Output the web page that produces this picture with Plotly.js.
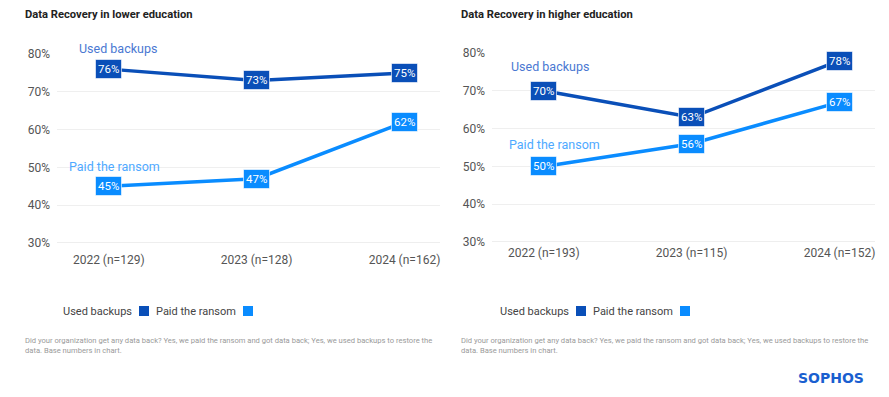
<!DOCTYPE html>
<html><head><meta charset="utf-8">
<script src="https://cdn.plot.ly/plotly-3.0.1.min.js"></script>
<style>html,body{margin:0;padding:0;background:#fff}#chart{width:889px;height:397px}</style>
</head><body><div id="chart"></div>
<script>
const lowerCats = ["2022 (n=129)", "2023 (n=128)", "2024 (n=162)"];
const lowerBackups = [76, 73, 75];
const lowerRansom = [45, 47, 62];
const higherCats = ["2022 (n=193)", "2023 (n=115)", "2024 (n=152)"];
const higherBackups = [70, 63, 78];
const higherRansom = [50, 56, 67];
const yTicks = [30, 40, 50, 60, 70, 80];
const yTickText = ["30%", "40%", "50%", "60%", "70%", "80%"];
const seriesNames = ["Used backups", "Paid the ransom"];

const DARK = "#0a4fb8", LIGHT = "#0a8cff";
const FONT = "Roboto, 'Open Sans', sans-serif";
const W = 889, H = 397;
const px = v => v / W, py = v => 1 - v / H;

function line(x, y, color, xa, ya, name) {
  return {x, y, type: "scatter", mode: "lines", name, xaxis: xa, yaxis: ya,
    line: {color, width: 3.5}, hoverinfo: "skip", showlegend: false, cliponaxis: false};
}
const data = [
  line(lowerCats, lowerBackups, DARK, "x", "y", seriesNames[0]),
  line(lowerCats, lowerRansom, LIGHT, "x", "y", seriesNames[1]),
  line(higherCats, higherBackups, DARK, "x2", "y2", seriesNames[0]),
  line(higherCats, higherRansom, LIGHT, "x2", "y2", seriesNames[1])
];

const annotations = [];
function labels(cats, vals, color, xr, yr) {
  cats.forEach((c, i) => annotations.push({
    x: c, y: vals[i], xref: xr, yref: yr, text: vals[i] + "%", showarrow: false,
    font: {family: FONT, size: 11.5, color: "#ffffff"}, bgcolor: color,
    bordercolor: "rgba(255,255,255,0.6)", borderwidth: 1, borderpad: 2
  }));
}
labels(lowerCats, lowerBackups, DARK, "x", "y");
labels(lowerCats, lowerRansom, LIGHT, "x", "y");
labels(higherCats, higherBackups, DARK, "x2", "y2");
labels(higherCats, higherRansom, LIGHT, "x2", "y2");

function note(text, x, y, size, color, opts) {
  annotations.push(Object.assign({text, x, y, xref: "paper", yref: "paper", showarrow: false,
    xanchor: "left", yanchor: "middle", align: "left",
    font: {family: FONT, size, color}}, opts || {}));
}
// series name labels
note(seriesNames[0], px(77), py(49), 12.5, "#4a78d2");
note(seriesNames[1], px(67), py(166), 12.5, "#4ea9ff");
note(seriesNames[0], px(509), py(67), 12.5, "#4a78d2");
note(seriesNames[1], px(507), py(144), 12.5, "#4ea9ff");
// titles
note("<b>Data Recovery in lower education</b>", px(23), py(15), 11.2, "#222222");
note("<b>Data Recovery in higher education</b>", px(459), py(15), 11.2, "#222222");
// legends (text + square swatches)
const shapes = [];
function legend(x0) {
  note(seriesNames[0], px(x0 + 71), py(311), 11, "#444444", {xanchor: "right"});
  note(seriesNames[1], px(x0 + 175), py(311), 11, "#444444", {xanchor: "right"});
  [[x0 + 76, DARK], [x0 + 180, LIGHT]].forEach(([sx, c]) => shapes.push({
    type: "rect", xref: "paper", yref: "paper", x0: px(sx), x1: px(sx + 10), y0: py(316), y1: py(306),
    fillcolor: c, line: {width: 0}}));
}
legend(63);
legend(500);
// footnotes
const foot = "Did your organization get any data back? Yes, we paid the ransom and got data back; Yes, we used backups to restore the<br>data. Base numbers in chart.";
note(foot, px(23), py(345), 7.6, "#9a9a9a");
note(foot, px(459), py(345), 7.6, "#9a9a9a");
// logo
note("<b>SOPHOS</b>", px(796), py(378), 15, "#1a5fd0", {font: {family: "'DejaVu Sans', sans-serif", size: 14, color: "#1a5fd0", weight: 900}});

function xaxis(dom) {
  return {domain: dom, range: [-0.35, 2.24], showgrid: false, zeroline: false,
    showline: false, ticks: "", tickfont: {family: FONT, size: 12, color: "#555555"}, fixedrange: true};
}
function yaxis(dom, anchor) {
  return {domain: dom, anchor, range: [30, 80], tickvals: yTicks, ticktext: yTickText,
    showgrid: true, gridcolor: "#efefef", gridwidth: 1, zeroline: false, showline: false, ticks: "",
    ticklabelstandoff: 6, tickfont: {family: FONT, size: 12, color: "#555555"}, fixedrange: true};
}
shapes.push(
  {type: "line", xref: "x domain", yref: "y", x0: 0, x1: 1, y0: 30, y1: 30, line: {color: "#dddddd", width: 1}},
  {type: "line", xref: "x2 domain", yref: "y2", x0: 0, x1: 1, y0: 30, y1: 30, line: {color: "#dddddd", width: 1}}
);
const layout = {
  width: W, height: H, margin: {l: 0, r: 0, t: 0, b: 0},
  paper_bgcolor: "#ffffff", plot_bgcolor: "#ffffff", showlegend: false,
  xaxis: Object.assign(xaxis([px(57), px(440)]), {anchor: "y", ticklabelstandoff: 8}),
  yaxis: yaxis([py(243), py(54)], "x"),
  xaxis2: Object.assign(xaxis([px(492), px(875)]), {anchor: "y2", ticklabelstandoff: 2}),
  yaxis2: yaxis([py(242), py(53)], "x2"),
  shapes,
  annotations
};
Plotly.newPlot("chart", data, layout, {displayModeBar: false, staticPlot: true});
</script></body></html>
